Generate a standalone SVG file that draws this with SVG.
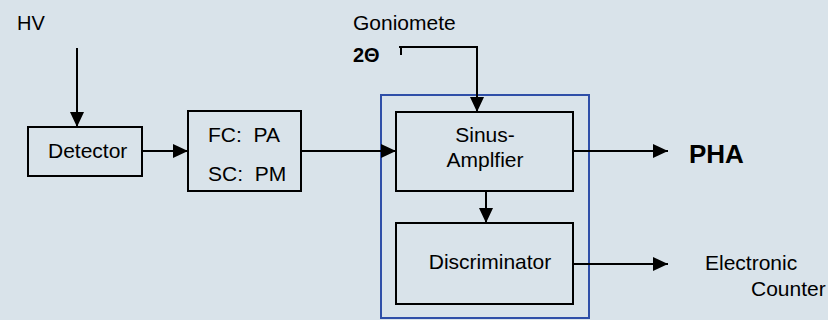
<svg xmlns="http://www.w3.org/2000/svg" width="828" height="320" viewBox="0 0 828 320">
<defs>
<style>
.bg{fill:#d9e3ea}
.box{fill:none;stroke:#000;stroke-width:2}
.grp{fill:none;stroke:#2f4fa8;stroke-width:2}
.ln{fill:none;stroke:#000;stroke-width:2;marker-end:url(#ah)}
.t{font-family:"Liberation Sans",Arial,sans-serif;font-size:21px;fill:#000;white-space:pre}
.b{font-weight:bold}
</style>
<marker id="ah" markerUnits="userSpaceOnUse" markerWidth="15" markerHeight="14" refX="15" refY="7" orient="auto">
<path d="M0,0 L15,7 L0,14 z" fill="#000"/>
</marker>
</defs>
<rect class="bg" x="0" y="0" width="828" height="320"/>
<text class="t" x="17" y="30" style="font-size:20px">HV</text>
<text class="t" x="353" y="30">Goniomete</text>
<text class="t b" x="353" y="62" style="font-size:20px">2Θ</text>
<text class="t b" x="689" y="163" style="font-size:26px">PHA</text>
<text class="t" x="705" y="270">Electronic</text>
<text class="t" x="751" y="296">Counter</text>
<g id="group">
<rect class="grp" x="381" y="95" width="208" height="223"/>
</g>
<g id="detector">
<rect class="box" x="28" y="127" width="114" height="49"/>
<text class="t" x="48" y="158">Detector</text>
</g>
<g id="fcsc">
<rect class="box" x="188" y="111" width="113" height="80"/>
<text class="t" x="208" y="142">FC:  PA</text>
<text class="t" x="208" y="181">SC:  PM</text>
</g>
<g id="sinus">
<rect class="box" x="396" y="112" width="177" height="79"/>
<text class="t" x="485" y="142" text-anchor="middle">Sinus-</text>
<text class="t" x="485" y="167" text-anchor="middle">Amplfier</text>
</g>
<g id="discriminator">
<rect class="box" x="396" y="223" width="177" height="81"/>
<text class="t" x="490" y="269" text-anchor="middle">Discriminator</text>
</g>
<g id="connectors">
<path class="ln" d="M77,48 V127"/>
<path class="ln" d="M142,151 H188"/>
<path class="ln" d="M301,151 H396"/>
<path class="ln" d="M401,55 V47 H477 V112"/>
<path d="M399,47 H404" stroke="#000" stroke-width="2"/>
<path class="ln" d="M486,191 V223"/>
<path class="ln" d="M573,151 H668"/>
<path class="ln" d="M573,264 H668"/>
</g>
</svg>
